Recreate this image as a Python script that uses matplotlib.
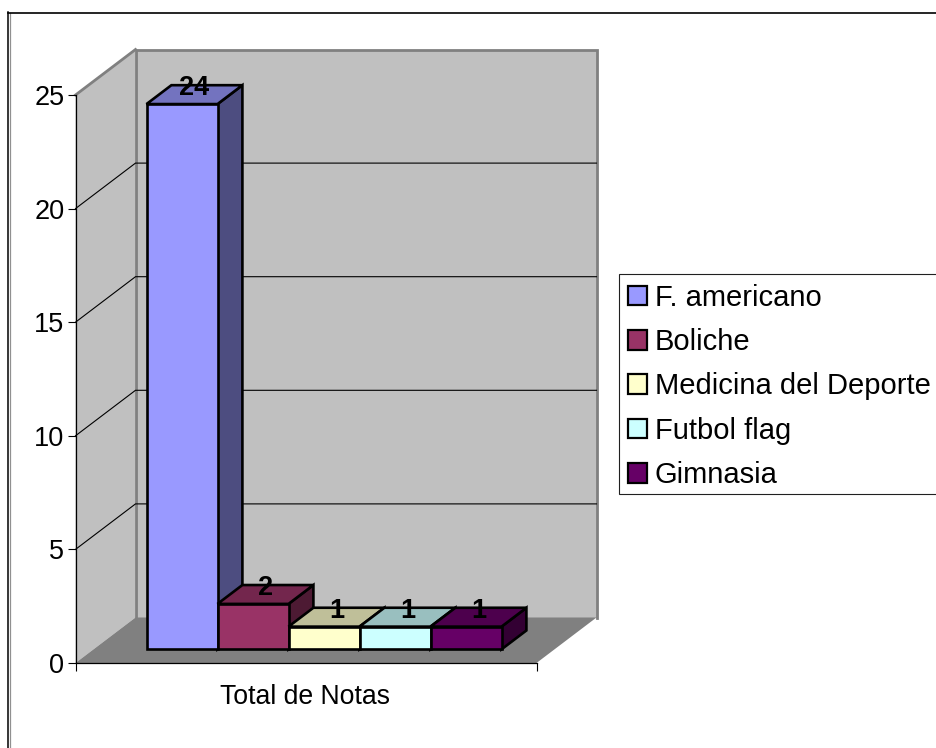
import matplotlib
matplotlib.use("Agg")
import matplotlib.pyplot as plt
from matplotlib.patches import Polygon, Patch, Rectangle
from matplotlib.colors import to_rgb

plt.rcParams['font.family'] = ['Liberation Sans', 'DejaVu Sans']

categories = ["F. americano", "Boliche", "Medicina del Deporte", "Futbol flag", "Gimnasia"]
values = [24, 2, 1, 1, 1]
colors = ["#9999FF", "#993366", "#FFFFCC", "#CCFFFF", "#660066"]
x_label = "Total de Notas"
y_ticks = [0, 5, 10, 15, 20, 25]

W, H = 936, 748
fig = plt.figure(figsize=(W / 100, H / 100), dpi=100, facecolor="white")

# Axes rectangle is the front plane of the 3D box (pixels)
L, R, T, B = 75.5, 536.5, 95.0, 663.0
ax = fig.add_axes([L / W, 1 - B / H, (R - L) / W, (B - T) / H])
n = len(values)
bar_px = 71.0
margin = ((R - L) / bar_px - n) / 2
ax.set_xlim(-margin, n + margin)
ax.set_ylim(0, 25)
ax.patch.set_visible(False)

# Oblique projection: depth d in 0..1 shifts right and up
DX = 60.0 / bar_px
DY = 45.5 / ((B - T) / 25)


def p(x, y, d):
    return (x + d * DX, y + d * DY)


x0, x1 = ax.get_xlim()
GREY = "#808080"
WALL = "#C0C0C0"
# walls and floor
ax.add_patch(Polygon([p(x0, 0, 1), p(x1, 0, 1), p(x1, 25, 1), p(x0, 25, 1)],
                     fc=WALL, ec="none", clip_on=False, zorder=1))
ax.add_patch(Polygon([p(x0, 0, 0), p(x0, 0, 1), p(x0, 25, 1), p(x0, 25, 0)],
                     fc=WALL, ec="none", clip_on=False, zorder=1))
ax.add_patch(Polygon([p(x0, 0, 0), p(x1, 0, 0), p(x1, 0, 1), p(x0, 0, 1)],
                     fc=GREY, ec="none", clip_on=False, zorder=1.2))
# wall borders
edges = [[p(x0, 0, 1), p(x0, 25, 1), p(x1, 25, 1), p(x1, 0, 1)],
         [p(x0, 25, 0), p(x0, 25, 1)]]
for e in edges:
    ax.plot(*zip(*e), color=GREY, lw=2.0, clip_on=False, zorder=1.5,
            solid_joinstyle="miter")
# gridlines
for v in y_ticks[1:-1]:
    ax.plot(*zip(p(x0, v, 0), p(x0, v, 1), p(x1, v, 1)), color="black", lw=0.8,
            clip_on=False, zorder=1.6, solid_joinstyle="miter")

# bars
D0, D1 = 0.30, 0.715


def shade(c, f):
    return tuple(f * v for v in to_rgb(c))


for i, (v, c) in enumerate(zip(values, colors)):
    kw = dict(ec="black", lw=1.9, clip_on=False, zorder=3 + i * 0.1, joinstyle="miter")
    ax.add_patch(Polygon([p(i + 1, 0, D0), p(i + 1, 0, D1), p(i + 1, v, D1), p(i + 1, v, D0)],
                         fc=shade(c, 0.5), **kw))
    ax.add_patch(Polygon([p(i, v, D0), p(i + 1, v, D0), p(i + 1, v, D1), p(i, v, D1)],
                         fc=shade(c, 0.75), **kw))
    ax.add_patch(Polygon([p(i, 0, D0), p(i + 1, 0, D0), p(i + 1, v, D0), p(i, v, D0)],
                         fc=c, **kw))
    ax.annotate(str(v), p(i + 0.5, v, (D0 + D1) / 2), xytext=(0, 4.8),
                textcoords="offset points", ha="center", va="center",
                fontsize=19.5, fontweight="bold", color="black", zorder=5,
                annotation_clip=False)

# axes
for s in ["top", "right"]:
    ax.spines[s].set_visible(False)
for s in ["left", "bottom"]:
    ax.spines[s].set_linewidth(0.9)
    ax.spines[s].set_zorder(2)
ax.set_yticks(y_ticks)
ax.set_xticks([x0, x1])
ax.set_xticklabels(["", ""])
ax.tick_params(axis="both", length=5.5, width=0.8, labelsize=19.5, color="black")
ax.tick_params(axis="y", pad=2.5)
fig.text(304.5 / W, 1 - 697 / H, x_label, ha="center", va="center", fontsize=19.2)

# chart frame
fig.add_artist(plt.Line2D([9.6 / W, 9.6 / W], [1 - 13 / H, 0], color="#909090", lw=0.9))
fig.add_artist(plt.Line2D([8.4 / W, 8.4 / W], [1 - 12 / H, 0], color="black", lw=1.1))
fig.add_artist(plt.Line2D([8 / W, 1], [1 - 12.5 / H, 1 - 12.5 / H], color="black", lw=1.2))

# legend box runs past the right edge of the picture
fig.add_artist(Rectangle((618.5 / W, 1 - 493.5 / H), 330 / W, 219.5 / H,
                         transform=fig.transFigure, fc="white", ec="#202020", lw=0.8))
handles = [Patch(fc=c, ec="black", lw=1.6, label=l) for c, l in zip(colors, categories)]
leg = fig.legend(handles=handles, loc="upper left",
                 bbox_to_anchor=(618.5 / W, 1 - 274 / H), fontsize=21, frameon=False,
                 handlelength=0.66, handleheight=0.66, handletextpad=0.25,
                 labelspacing=0.56, borderpad=0.33, borderaxespad=0)

fig.savefig("out.png", dpi=100)
